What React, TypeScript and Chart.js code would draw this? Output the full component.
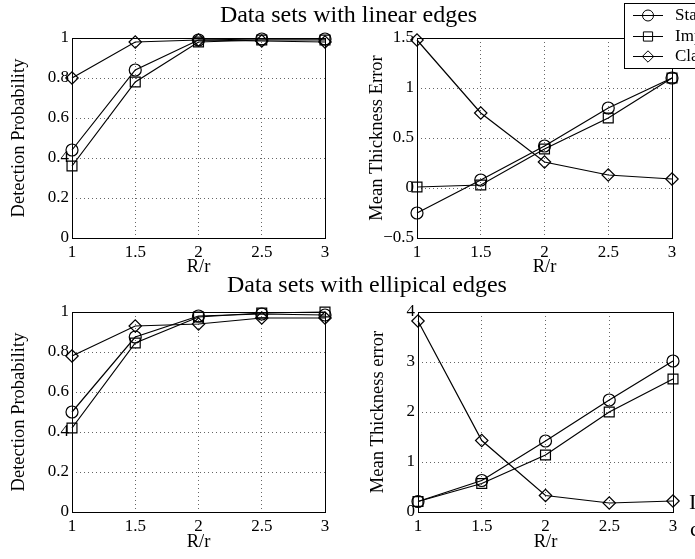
import React, { useEffect, useRef } from 'react';
import { Chart, registerables } from 'chart.js';

Chart.register(...registerables);

const FONT = "'Liberation Serif', 'Times New Roman', serif";
const TICK_SIZE = 17;
const AXIS_TITLE_SIZE = 18.5;
const GRID_COLOR = 'rgba(0,0,0,0.6)';

// ---------- data ----------
const xValues = [1, 1.5, 2, 2.5, 3];
const xTicks = [1, 1.5, 2, 2.5, 3];
const xTitle = 'R/r';
const seriesNames = ['Standard', 'Improved', 'Classical'];
const pointStyles = ['circle', 'rect', 'rectRot'];

const titleLinear = 'Data sets with linear edges';
const titleElliptical = 'Data sets with ellipical edges';

const detectionTicks = [0, 0.2, 0.4, 0.6, 0.8, 1];
const linearErrorTicks = [-0.5, 0, 0.5, 1, 1.5];
const ellipErrorTicks = [0, 1, 2, 3, 4];

const linearDetStandard = [0.44, 0.84, 0.99, 0.995, 0.995];
const linearDetImproved = [0.36, 0.78, 0.98, 0.99, 0.99];
const linearDetClassical = [0.8, 0.98, 0.99, 0.985, 0.98];

const linearErrStandard = [-0.25, 0.08, 0.42, 0.8, 1.1];
const linearErrImproved = [0.01, 0.03, 0.39, 0.7, 1.1];
const linearErrClassical = [1.48, 0.75, 0.26, 0.13, 0.09];

const ellipDetStandard = [0.5, 0.875, 0.98, 0.99, 0.985];
const ellipDetImproved = [0.42, 0.845, 0.975, 0.995, 1.0];
const ellipDetClassical = [0.78, 0.93, 0.94, 0.97, 0.97];

const ellipErrStandard = [0.21, 0.63, 1.42, 2.24, 3.02];
const ellipErrImproved = [0.21, 0.57, 1.14, 2.0, 2.66];
const ellipErrClassical = [3.82, 1.43, 0.33, 0.18, 0.22];

// ---------- layout ----------
const pointRadii = [6, 7, 6.2];

function fmt(v: number): string {
  const r = Math.round(v * 1000) / 1000;
  return r < 0 ? '\u2212' + String(Math.abs(r)) : String(r);
}

type Panel = {
  key: string;
  series: number[][];
  yTicks: number[];
  yTitle: string;
  box: { left: number; top: number; width: number; height: number };
  pad: { left: number; top: number; right: number; bottom: number };
  yAxisWidth: number;
  xAxisHeight: number;
  yTitleOffset: number;
  xTitleOffset: number;
  legend?: { x: number; y: number; w: number; h: number; rows: number[]; lineX0: number; lineX1: number; textX: number };
};

const panels: Panel[] = [
  {
    key: 'tl',
    series: [linearDetStandard, linearDetImproved, linearDetClassical],
    yTicks: detectionTicks,
    yTitle: 'Detection Probability',
    box: { left: 0, top: 0, width: 345, height: 280 },
    pad: { left: 0, top: 38, right: 20, bottom: 12 },
    yAxisWidth: 72,
    xAxisHeight: 30,
    yTitleOffset: 53,
    xTitleOffset: 29.5,
  },
  {
    key: 'tr',
    series: [linearErrStandard, linearErrImproved, linearErrClassical],
    yTicks: linearErrorTicks,
    yTitle: 'Mean Thickness Error',
    box: { left: 345, top: 0, width: 350, height: 280 },
    pad: { left: 0, top: 38, right: 23, bottom: 12 },
    yAxisWidth: 72,
    xAxisHeight: 30,
    yTitleOffset: 40,
    xTitleOffset: 29.5,
    legend: { x: 279, y: 3, w: 120, h: 65, rows: [15, 35.5, 56], lineX0: 288, lineX1: 318, textX: 330 },
  },
  {
    key: 'bl',
    series: [ellipDetStandard, ellipDetImproved, ellipDetClassical],
    yTicks: detectionTicks,
    yTitle: 'Detection Probability',
    box: { left: 0, top: 280, width: 345, height: 279 },
    pad: { left: 0, top: 32, right: 20, bottom: 17 },
    yAxisWidth: 72,
    xAxisHeight: 30,
    yTitleOffset: 53,
    xTitleOffset: 30,
  },
  {
    key: 'br',
    series: [ellipErrStandard, ellipErrImproved, ellipErrClassical],
    yTicks: ellipErrorTicks,
    yTitle: 'Mean Thickness error',
    box: { left: 345, top: 280, width: 350, height: 279 },
    pad: { left: 0, top: 32, right: 22, bottom: 17 },
    yAxisWidth: 73,
    xAxisHeight: 30,
    yTitleOffset: 40,
    xTitleOffset: 30,
  },
];

function drawMarker(ctx: CanvasRenderingContext2D, style: string, x: number, y: number, r: number) {
  ctx.beginPath();
  if (style === 'circle') {
    ctx.arc(x, y, r, 0, Math.PI * 2);
  } else if (style === 'rect') {
    const s = r * Math.SQRT1_2;
    ctx.rect(x - s, y - s, 2 * s, 2 * s);
  } else {
    ctx.moveTo(x - r, y);
    ctx.lineTo(x, y - r);
    ctx.lineTo(x + r, y);
    ctx.lineTo(x, y + r);
    ctx.closePath();
  }
  ctx.stroke();
}

function PanelChart({ panel }: { panel: Panel }) {
  const ref = useRef<HTMLCanvasElement>(null);
  useEffect(() => {
    const canvas = ref.current;
    if (!canvas) return;
    const p = panel;
    const yMin = p.yTicks[0];
    const yMax = p.yTicks[p.yTicks.length - 1];

    const framePlugin = {
      id: 'matlabFrame',
      beforeDatasetsDraw(chart: any) {
        const { ctx, chartArea: a } = chart;
        ctx.save();
        ctx.strokeStyle = '#000';
        ctx.lineWidth = 1;
        ctx.strokeRect(
          Math.round(a.left) + 0.5,
          Math.round(a.top) + 0.5,
          Math.round(a.right) - Math.round(a.left),
          Math.round(a.bottom) - Math.round(a.top)
        );
        ctx.restore();
      },
      afterDraw(chart: any) {
        const { ctx, chartArea: a } = chart;
        ctx.save();
        ctx.fillStyle = '#000';
        ctx.font = `${AXIS_TITLE_SIZE}px ${FONT}`;
        ctx.textAlign = 'center';
        ctx.textBaseline = 'middle';
        ctx.fillText(xTitle, (a.left + a.right) / 2, a.bottom + p.xTitleOffset);
        ctx.translate(a.left - p.yTitleOffset, (a.top + a.bottom) / 2);
        ctx.rotate(-Math.PI / 2);
        ctx.fillText(p.yTitle, 0, 0);
        ctx.restore();

        if (p.legend) {
          const L = p.legend;
          ctx.save();
          ctx.fillStyle = '#fff';
          ctx.fillRect(L.x, L.y, L.w, L.h);
          ctx.strokeStyle = '#000';
          ctx.lineWidth = 1;
          ctx.strokeRect(L.x + 0.5, L.y + 0.5, L.w, L.h);
          ctx.font = `${TICK_SIZE}px ${FONT}`;
          ctx.textAlign = 'left';
          ctx.textBaseline = 'middle';
          seriesNames.forEach((name, i) => {
            const y = L.rows[i];
            ctx.beginPath();
            ctx.moveTo(L.lineX0, Math.round(y) + 0.5);
            ctx.lineTo(L.lineX1, Math.round(y) + 0.5);
            ctx.stroke();
            drawMarker(ctx, pointStyles[i], (L.lineX0 + L.lineX1) / 2, Math.round(y) + 0.5, pointRadii[i] - 0.5);
            ctx.fillStyle = '#000';
            ctx.fillText(name, L.textX, y + 1);
          });
          ctx.restore();
        }
      },
    };

    const chart = new Chart(canvas, {
      type: 'line',
      data: {
        datasets: p.series.map((ys, i) => ({
          label: seriesNames[i],
          data: xValues.map((x, j) => ({ x, y: ys[j] })),
          borderColor: '#000',
          borderWidth: 1.2,
          pointStyle: pointStyles[i] as any,
          pointRadius: pointRadii[i],
          pointBorderWidth: 1.2,
          pointBorderColor: '#000',
          pointBackgroundColor: 'rgba(0,0,0,0)',
          fill: false,
          tension: 0,
          clip: false as any,
        })),
      },
      options: {
        responsive: false,
        animation: false,
        events: [],
        layout: { padding: p.pad },
        plugins: {
          legend: { display: false },
          tooltip: { enabled: false },
          title: { display: false },
        },
        scales: {
          x: {
            type: 'linear',
            min: xTicks[0],
            max: xTicks[xTicks.length - 1],
            afterBuildTicks: (s: any) => {
              s.ticks = xTicks.map((v) => ({ value: v }));
            },
            afterFit: (s: any) => {
              s.height = p.xAxisHeight;
            },
            ticks: {
              font: { family: FONT, size: TICK_SIZE },
              color: '#000',
              padding: 4,
              autoSkip: false,
              maxRotation: 0,
              minRotation: 0,
              callback: (v: any) => fmt(Number(v)),
            },
            grid: { color: GRID_COLOR, lineWidth: 1, drawTicks: false },
            border: { display: false, dash: [1, 3] },
          },
          y: {
            type: 'linear',
            min: yMin,
            max: yMax,
            afterBuildTicks: (s: any) => {
              s.ticks = p.yTicks.map((v) => ({ value: v }));
            },
            afterFit: (s: any) => {
              s.width = p.yAxisWidth;
            },
            ticks: {
              font: { family: FONT, size: TICK_SIZE },
              color: '#000',
              padding: 3,
              autoSkip: false,
              callback: (v: any) => fmt(Number(v)),
            },
            grid: { color: GRID_COLOR, lineWidth: 1, drawTicks: false },
            border: { display: false, dash: [1, 3] },
          },
        },
      } as any,
      plugins: [framePlugin],
    });
    return () => chart.destroy();
  }, [panel]);

  return (
    <canvas
      ref={ref}
      width={panel.box.width}
      height={panel.box.height}
      style={{
        position: 'absolute',
        left: panel.box.left,
        top: panel.box.top,
        width: panel.box.width,
        height: panel.box.height,
      }}
    />
  );
}

export default function App() {
  const titleStyle: React.CSSProperties = {
    position: 'absolute',
    fontFamily: FONT,
    fontSize: 24,
    lineHeight: '24px',
    whiteSpace: 'nowrap',
    transform: 'translateX(-50%)',
    color: '#000',
    zIndex: 2,
  };
  const sideText: React.CSSProperties = {
    position: 'absolute',
    fontFamily: FONT,
    fontSize: 22,
    lineHeight: '22px',
    whiteSpace: 'nowrap',
    color: '#000',
    zIndex: 2,
  };
  return (
    <div
      style={{
        position: 'fixed',
        left: 0,
        top: 0,
        width: 695,
        height: 559,
        overflow: 'hidden',
        background: '#fff',
      }}
    >
      {panels.map((p) => (
        <PanelChart key={p.key} panel={p} />
      ))}
      <div style={{ ...titleStyle, left: 348.5, top: 2 }}>{titleLinear}</div>
      <div style={{ ...titleStyle, left: 367, top: 272 }}>{titleElliptical}</div>
      <div style={{ ...sideText, left: 689, top: 491 }}>In</div>
      <div style={{ ...sideText, left: 690, top: 518 }}>co</div>
    </div>
  );
}
